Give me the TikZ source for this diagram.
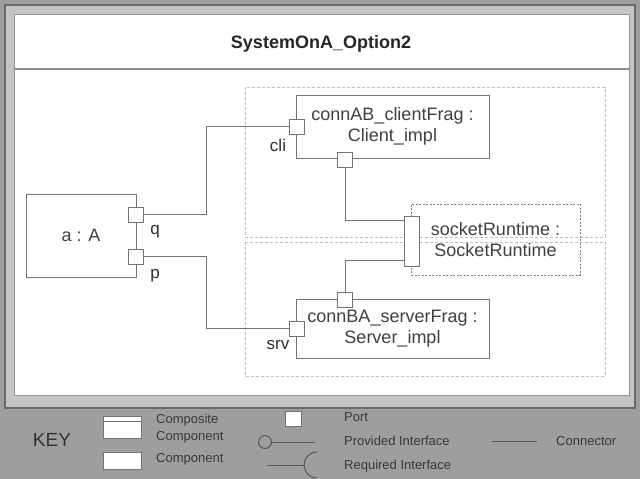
\documentclass[tikz,border=0pt]{standalone}
\usepackage{fontspec}
\setmainfont{Liberation Sans}
\begin{document}
\begin{tikzpicture}[x=1pt,y=-1pt,
  comp/.style={draw=black!55, line width=1pt, fill=white, inner sep=0pt, align=center,
    text=black!75, font=\fontsize{18}{21}\selectfont},
  portbox/.style={draw=black!55, line width=1pt, fill=white, inner sep=0pt,
    minimum width=15pt, minimum height=15pt},
  conn/.style={draw=black!55, line width=1pt},
  region/.style={draw=black!25, line width=0.9pt, dash pattern=on 3pt off 2pt},
  lbl/.style={text=black!82, font=\fontsize{17}{19}\selectfont, inner sep=0pt},
  keytxt/.style={text=black!78, font=\fontsize{13}{15}\selectfont, anchor=west, inner sep=0pt},
  keyline/.style={draw=black!65, line width=1pt}]
\useasboundingbox (0,0) rectangle (640,479);
% background and frame
\fill[black!38] (0,0) rectangle (640,479);
\draw[fill=black!23, draw=black!58, line width=1.5pt] (5,5) rectangle (635,408);
\draw[fill=white, draw=black!42, line width=1pt] (14,14) rectangle (629,395);
\draw[draw=black!45, line width=1.2pt] (14,69) -- (629,69);
\node[font=\bfseries\fontsize{18}{20}\selectfont, text=black!85] (title) at (321,44) {SystemOnA\_Option2};
% dashed regions
\draw[region] (245,87) rectangle (605,237);
\draw[region] (245,242) rectangle (605,376);
% components
\node[comp, minimum width=110pt, minimum height=83pt] (a) at (81,235.5) {a : A};
\node[comp, minimum width=193pt, minimum height=63pt] (client) at (392.5,126.5) {connAB\_clientFrag :\\Client\_impl};
\node[comp, minimum width=193pt, minimum height=59pt] (server) at (392.5,328.5) {connBA\_serverFrag :\\Server\_impl};
\node[comp, fill=none, draw=black!50, line width=0.8pt, dash pattern=on 2pt off 1.5pt, minimum width=169pt, minimum height=71pt] (socket) at (495.5,239.5) {socketRuntime :\\SocketRuntime};
% ports
\node[portbox] (q) at (135.5,214.5) {};
\node[portbox] (p) at (135.5,256.5) {};
\node[portbox] (cli) at (296.5,126.5) {};
\node[portbox] (cport) at (345,159.5) {};
\node[portbox] (srv) at (296.5,328.5) {};
\node[portbox] (tport) at (345,299.5) {};
\node[portbox, minimum height=50pt] (sport) at (411.5,241) {};
% port labels
\node[lbl] (ql) at (155,232) {q};
\node[lbl] (pl) at (155,276) {p};
\node[lbl] (clil) at (278,145) {cli};
\node[lbl] (srvl) at (278,345) {srv};
% connectors
\coordinate (j1) at (206,214.5);
\coordinate (j2) at (206,256.5);
\coordinate (s1) at (404,220);
\coordinate (s2) at (404,260);
\draw[conn] (q.east) -- (j1) |- (cli.west);
\draw[conn] (p.east) -- (j2) |- (srv.west);
\draw[conn] (cport.south) |- (s1);
\draw[conn] (s2) -| (tport.north);
% redraw ports on top
\node[portbox] at (135.5,214.5) {};
\node[portbox] at (135.5,256.5) {};
\node[portbox] at (296.5,126.5) {};
\node[portbox] at (345,159.5) {};
\node[portbox] at (296.5,328.5) {};
\node[portbox] at (345,299.5) {};
\node[portbox, minimum height=50pt] at (411.5,241) {};
% key
\node[text=black!80, font=\fontsize{19}{21}\selectfont, inner sep=0pt] (key) at (52,440) {KEY};
\draw[fill=white, draw=black!55, line width=0.9pt] (103,416) rectangle (141,438);
\draw[draw=black!55, line width=0.9pt] (103,421) -- (141,421);
\draw[fill=white, draw=black!55, line width=0.9pt] (103,452) rectangle (141,469);
\node[keytxt] (k1) at (156,420) {Composite};
\node[keytxt] (k2) at (156,437) {Component};
\node[keytxt] (k3) at (156,459) {Component};
\draw[fill=white, draw=black!55, line width=0.9pt] (285,411) rectangle (301,426);
\node[keytxt] (k4) at (344,417) {Port};
\draw[keyline] (265,442) circle (6.5);
\draw[keyline] (271.5,442) -- (315,442);
\node[keytxt] (k5) at (344,441) {Provided Interface};
\draw[keyline] (267,465) -- (304,465);
\draw[keyline] (317,452) arc[start angle=-90, end angle=-270, radius=13];
\node[keytxt] (k6) at (344,466) {Required Interface};
\draw[keyline] (492,441) -- (537,441);
\node[keytxt] (k7) at (556,441) {Connector};
\end{tikzpicture}
\end{document}
